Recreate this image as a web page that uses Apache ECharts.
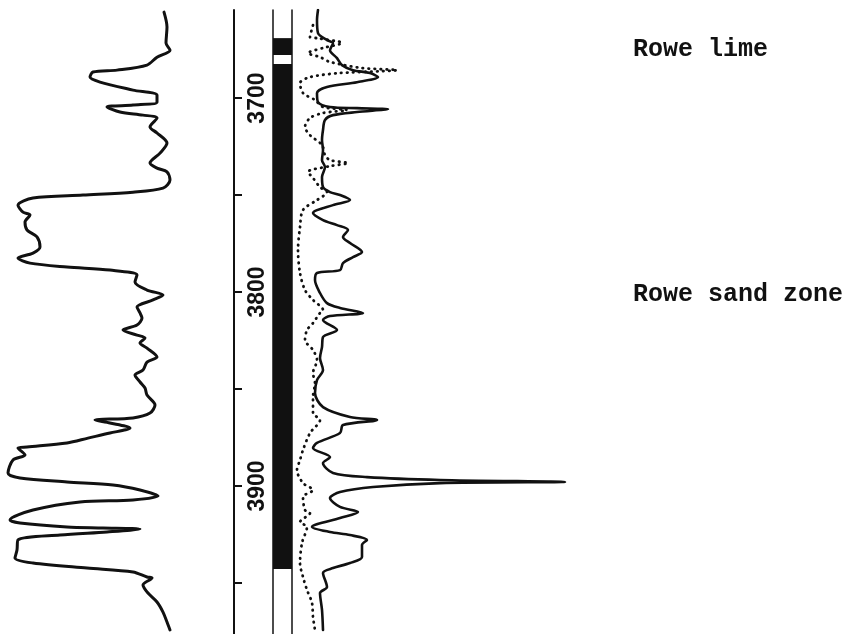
<!DOCTYPE html>
<html>
<head>
<meta charset="utf-8">
<title>Rowe well log</title>
<script src="https://cdn.jsdelivr.net/npm/echarts@6/dist/echarts.min.js"></script>
<style>
  html, body { margin: 0; padding: 0; background: #fff; }
  #chart { width: 849px; height: 634px; }
</style>
</head>
<body>
<div id="chart"></div>
<script>
// 深度范围 (ft)
const depthTop = 3654.6;
const depthBase = 3976.3;
const depthTicks = [3700, 3750, 3800, 3850, 3900, 3950];
const depthLabels = [3700, 3800, 3900];

// 左道曲线 [depth, value]
const spLog = [
  [3655.7, 164], [3663.4, 167], [3671.6, 166], [3675.3, 170], [3678.9, 157], [3683.0, 147],
  [3685.6, 117], [3686.6, 93], [3689.2, 90], [3691.8, 100], [3695.9, 133], [3698.5, 157],
  [3702.1, 157], [3703.6, 133], [3704.6, 107], [3707.2, 120], [3708.8, 143], [3710.3, 157],
  [3714.9, 150], [3718.0, 157], [3723.2, 167], [3728.4, 160], [3733.5, 150], [3736.1, 157],
  [3738.1, 167], [3742.3, 170], [3746.4, 163], [3748.5, 133], [3750.0, 83], [3751.5, 33],
  [3755.2, 18], [3758.8, 23], [3760.3, 30], [3763.9, 25], [3768.0, 27], [3771.6, 37],
  [3776.8, 40], [3779.9, 33], [3782.5, 18], [3785.1, 30], [3787.1, 67], [3788.7, 110],
  [3791.2, 137], [3794.8, 135], [3799.0, 147], [3801.5, 163], [3804.1, 153], [3807.7, 137],
  [3810.8, 140], [3813.4, 142], [3817.0, 137], [3819.6, 123], [3822.2, 137], [3823.7, 145],
  [3826.3, 140], [3828.9, 147], [3833.5, 157], [3836.1, 147], [3840.2, 143], [3842.8, 135],
  [3846.4, 140], [3849.5, 145], [3853.1, 147], [3858.2, 155], [3862.4, 150], [3864.9, 133],
  [3866.0, 95], [3867.5, 110], [3870.1, 130], [3872.7, 110], [3875.3, 88], [3877.8, 67],
  [3879.9, 27], [3880.4, 18], [3884.0, 25], [3886.6, 13], [3893.3, 8], [3895.9, 20],
  [3897.9, 67], [3899.5, 113], [3902.1, 140], [3905.2, 158], [3907.2, 133], [3908.2, 80],
  [3912.4, 33], [3917.5, 10], [3919.1, 20], [3921.1, 67], [3921.6, 103], [3922.2, 140],
  [3923.7, 107], [3925.3, 60], [3927.8, 18], [3933.0, 17], [3937.1, 15], [3939.7, 33],
  [3942.3, 87], [3944.3, 133], [3946.9, 147], [3947.4, 152], [3951.0, 143], [3955.2, 148],
  [3959.8, 157], [3965.0, 163], [3970.1, 167], [3974.2, 170]
];

// 岩性柱 (黑色段) 顶/底
const lithoTop = [3669.1, 3682.5];
const lithoBase = [3677.8, 3942.8];

// 右道 实线
const resSolid = [
  [3654.6, 26], [3659.8, 25], [3666.5, 26], [3670.1, 35], [3671.6, 41], [3675.3, 38],
  [3679.4, 45], [3683.0, 50], [3685.6, 61], [3687.1, 78], [3689.2, 86], [3691.8, 65],
  [3694.3, 35], [3697.4, 25], [3702.1, 26], [3704.6, 38], [3705.2, 65], [3705.7, 96],
  [3707.2, 65], [3708.8, 41], [3711.3, 33], [3716.5, 31], [3721.6, 30], [3726.8, 31],
  [3732.0, 30], [3735.6, 33], [3740.7, 30], [3745.9, 31], [3748.5, 38], [3750.0, 48],
  [3752.6, 58], [3755.2, 41], [3759.3, 21], [3762.9, 31], [3765.5, 45], [3768.0, 56],
  [3771.6, 51], [3774.7, 58], [3779.4, 70], [3782.0, 61], [3785.1, 51], [3788.7, 48],
  [3790.2, 25], [3793.8, 23], [3800.5, 28], [3805.7, 35], [3808.2, 48], [3810.8, 71],
  [3812.4, 38], [3814.4, 31], [3819.6, 45], [3823.2, 31], [3828.4, 30], [3834.0, 28],
  [3840.2, 31], [3845.4, 25], [3852.1, 23], [3859.3, 31], [3864.4, 58], [3866.0, 85],
  [3868.6, 51], [3872.7, 48], [3877.8, 25], [3880.4, 21], [3885.1, 38], [3888.2, 31],
  [3893.3, 41], [3895.4, 75], [3896.9, 148], [3897.9, 273], [3898.5, 148], [3900.5, 81],
  [3903.1, 48], [3906.2, 38], [3910.8, 48], [3913.4, 66], [3916.5, 48], [3921.1, 20],
  [3923.7, 38], [3925.3, 58], [3927.8, 75], [3930.4, 70], [3936.6, 70], [3939.7, 58],
  [3942.3, 41], [3944.8, 31], [3952.1, 35], [3955.2, 28], [3963.9, 30], [3974.2, 31]
];

// 右道 点线
const resDotted = [
  [3662.4, 21], [3668.6, 18], [3669.1, 25], [3671.6, 50], [3674.2, 31], [3676.8, 16],
  [3678.9, 28], [3681.4, 38], [3684.5, 70], [3685.6, 105], [3687.1, 48], [3689.2, 18],
  [3692.3, 8], [3697.4, 11], [3701.0, 23], [3704.6, 31], [3706.2, 55], [3707.7, 31],
  [3710.3, 18], [3714.9, 13], [3719.1, 18], [3724.2, 30], [3729.4, 33], [3732.0, 38],
  [3733.5, 56], [3735.1, 38], [3738.1, 16], [3741.2, 21], [3745.9, 28], [3748.5, 35],
  [3752.6, 25], [3757.7, 11], [3766.5, 8], [3778.4, 6], [3790.2, 8], [3799.0, 13],
  [3804.1, 21], [3809.3, 31], [3810.8, 28], [3816.0, 21], [3819.6, 15], [3824.7, 13],
  [3829.9, 21], [3835.1, 25], [3841.8, 21], [3846.9, 23], [3854.1, 21], [3862.4, 21],
  [3866.0, 28], [3872.7, 18], [3881.4, 11], [3886.6, 8], [3891.8, 5], [3898.5, 11],
  [3902.1, 21], [3905.7, 11], [3912.4, 13], [3913.9, 18], [3918.6, 8], [3921.1, 15],
  [3929.4, 10], [3939.7, 8], [3946.9, 11], [3953.6, 15], [3960.3, 20], [3967.5, 21],
  [3974.2, 23]
];

const zones = ['Rowe lime', 'Rowe sand zone'];

let myChart = echarts.init(document.getElementById('chart'));

const ink = '#111';
const hiddenX = { type: 'value', show: false };
function depthAxis(grid, extra) {
  return Object.assign({
    type: 'value', gridIndex: grid, inverse: true, min: depthTop, max: depthBase,
    axisLine: { show: false }, axisTick: { show: false }, axisLabel: { show: false },
    splitLine: { show: false }
  }, extra || {});
}
function logSeries(data, xi, width, type) {
  return {
    type: 'line', xAxisIndex: xi, yAxisIndex: xi === 3 ? 4 : xi,
    data: data.map(function (d) { return [d[1], d[0]]; }),
    showSymbol: false, smooth: 0.3, silent: true,
    lineStyle: { color: ink, width: width, type: type || 'solid', cap: 'round', join: 'round' }
  };
}

let option = {
  animation: false,
  backgroundColor: '#fff',
  grid: [
    { left: 0, top: 10, width: 180, height: 624 },   // 左道
    { left: 234, top: 10, width: 10, height: 624 },  // 深度
    { left: 273, top: 10, width: 19, height: 624 },  // 岩性
    { left: 292, top: 10, width: 300, height: 624 }  // 右道
  ],
  xAxis: [
    Object.assign({ gridIndex: 0, min: 0, max: 180 }, hiddenX),
    Object.assign({ gridIndex: 1, min: 0, max: 1 }, hiddenX),
    Object.assign({ gridIndex: 2, min: 0, max: 1 }, hiddenX),
    Object.assign({ gridIndex: 3, min: 0, max: 300 }, hiddenX)
  ],
  yAxis: [
    depthAxis(0),
    depthAxis(1, {
      position: 'left',
      axisLine: { show: true, lineStyle: { color: ink, width: 2 } },
      axisTick: { show: true, inside: true, customValues: depthTicks, length: 8, lineStyle: { color: ink, width: 2 } },
      axisLabel: {
        show: true, inside: true, customValues: depthLabels, rotate: 90, margin: 12,
        color: ink, fontFamily: 'Liberation Sans', fontSize: 23, fontWeight: 'bold',
        formatter: function (v) { return String(v); }
      }
    }),
    depthAxis(2, { axisLine: { show: true, lineStyle: { color: ink, width: 1.5 } } }),
    depthAxis(2, { position: 'right', axisLine: { show: true, lineStyle: { color: ink, width: 1.5 } } }),
    depthAxis(3)
  ],
  graphic: zones.map(function (name, i) {
    return {
      type: 'text', x: 633, y: i === 0 ? 50 : 295,
      style: {
        text: name, fill: ink, font: 'bold 25px "Liberation Mono"',
        verticalAlign: 'middle', align: 'left'
      }
    };
  }),
  series: [
    logSeries(spLog, 0, 3),
    {
      type: 'custom', xAxisIndex: 2, yAxisIndex: 2, silent: true,
      data: lithoTop.map(function (t, i) { return [t, lithoBase[i]]; }),
      renderItem: function (params, api) {
        let p0 = api.coord([0, api.value(0)]);
        let p1 = api.coord([1, api.value(1)]);
        return {
          type: 'rect',
          shape: { x: p0[0], y: p0[1], width: p1[0] - p0[0], height: p1[1] - p0[1] },
          style: { fill: ink }
        };
      }
    },
    logSeries(resSolid, 3, 2.6),
    logSeries(resDotted, 3, 2.8, [0.5, 5.5])
  ]
};
myChart.setOption(option);
window.addEventListener('resize', function () {
  setTimeout(function () {
    myChart.resize();
  }, 100);
});
</script>
</body>
</html>
